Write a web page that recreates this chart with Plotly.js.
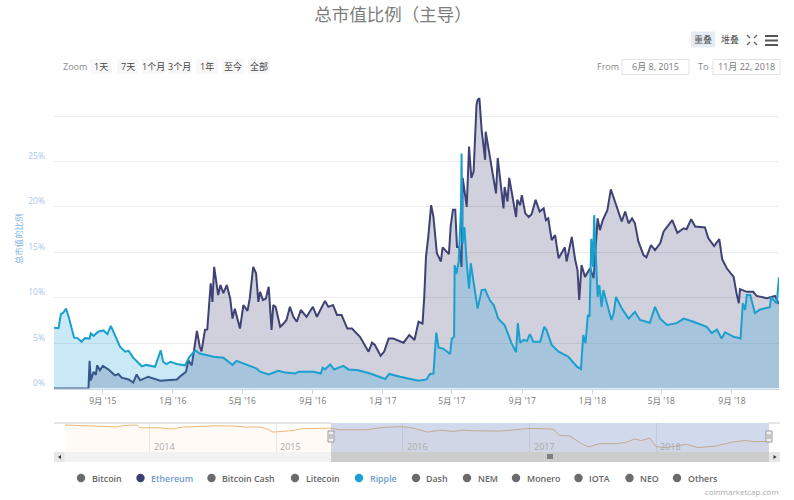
<![CDATA[<!DOCTYPE html>
<html><head><meta charset="utf-8">
<script src="https://cdn.plot.ly/plotly-3.0.1.min.js"></script>
<style>html,body{margin:0;padding:0;background:#fff}#c{width:794px;height:500px}</style>
</head><body><div id="c"></div>
<script>
var chartTitle='总市值比例（主导）';
var startDate='2015-06-08', endDate='2018-11-22';
var navStart='2013-05-02';
var rippleDays=[0,2,8,12,16,21,26,35,41,48,54,62,64,69,77,86,93,99,106,115,124,130,138,153,161,176,186,190,196,203,214,228,236,246,254,278,295,311,318,336,353,359,374,391,403,420,426,452,465,468,472,481,488,504,513,530,551,577,584,603,635,649,655,661,663,666,670,678,690,693,697,698,701,705,709,710,712,715,719,723,726,733,738,745,751,759,766,774,785,797,805,808,812,818,824,829,835,847,854,858,867,879,896,911,918,922,926,930,933,936,939,941,944,947,950,954,957,966,971,975,979,989,1001,1012,1021,1038,1047,1056,1068,1085,1097,1114,1137,1146,1155,1163,1169,1184,1196,1200,1204,1207,1213,1221,1230,1247,1249,1259,1263];
var rippleVals=[6.7,6.7,6.65,8.2,8.35,8.8,7.8,5.6,5.55,5.15,5.55,5.5,6.07,5.8,6.25,6.4,6.0,6.9,5.9,4.6,4.05,4.15,3.4,2.45,2.6,2.4,4.2,2.95,2.7,2.95,2.7,2.55,3.5,4.2,3.85,3.5,3.4,2.6,3.05,2.6,2.2,1.85,1.55,1.95,1.75,1.65,1.85,1.85,1.65,2.3,2.1,2.65,2.1,2.5,2.1,2.0,1.65,1.05,1.6,1.3,0.85,1.0,1.6,1.65,3.85,6.15,4.5,4.4,3.8,5.5,5.7,13.6,12.6,14,20,25.9,16,17.8,13.8,11,13.8,10.7,8.8,10.85,10.9,9.75,9.2,7.7,7,5,4,7.2,5.05,5.35,5.25,6.0,5.15,5.15,6.8,6.45,4.8,4.05,3.5,2.4,2.15,5.9,5.0,8.1,7.9,16.5,13.4,19.1,14.5,10.1,11.4,9.0,10.85,8.65,7.55,8.3,10.1,8.85,7.7,8.45,7.55,7.25,9.0,7.7,7.0,7.2,7.7,7.35,6.8,6.1,6.5,5.5,6.2,5.7,5.5,9.4,8.65,10.3,10.3,8.3,8.7,8.95,10.05,9.4,12.25];
var ethDays=[0,60,62,64,69,73,75,80,85,95,106,112,118,130,138,144,150,164,185,196,214,222,230,234,240,249,254,257,263,267,273,276,279,286,290,295,301,307,311,315,324,330,337,341,347,352,356,359,364,369,374,379,382,386,394,400,405,411,417,423,430,440,451,458,472,478,486,493,501,511,519,533,548,554,559,569,575,583,591,609,619,628,635,642,645,648,652,657,661,667,674,677,688,691,695,699,702,706,710,712,719,723,727,731,736,738,741,745,751,752,756,759,766,770,773,778,783,785,790,793,800,805,807,812,815,821,827,832,839,846,853,857,861,867,873,879,890,893,902,908,912,915,919,925,934,940,947,951,956,964,970,978,983,989,995,1001,1007,1012,1018,1027,1032,1040,1047,1056,1062,1077,1086,1097,1102,1110,1117,1134,1140,1150,1159,1164,1172,1184,1189,1193,1195,1207,1218,1224,1242,1256,1263];
var ethVals=[0,0,3.05,0.9,1.85,1.5,2.55,2.0,2.5,2.1,1.45,1.6,1.2,1.0,0.65,1.55,0.9,1.3,0.85,0.9,1.0,1.45,1.85,3.1,2.55,6.35,4.6,4.1,6.45,6.5,11.6,9.55,13.4,10.3,11.4,10.5,11.4,9.9,7.7,8.8,6.6,9.2,8.55,9.9,13.4,12.7,9.55,10.65,9.75,9.9,11.2,6.45,9.2,9.0,6.8,7.15,7.55,9.0,7.9,7.35,8.65,7.9,9.0,7.9,9.65,9.0,9.2,8.1,8.1,6.6,6.6,5.7,4.05,5.05,4.8,3.6,4.05,5.5,5.5,5.05,5.9,5.35,7.35,7.15,10.1,14.5,16.7,20.2,18.9,14.9,14.0,15.55,14.8,17.85,19.7,19.7,15.6,15.6,13.4,23.2,20.0,26.65,23.2,23.9,31.25,31.8,32.0,28.5,25.2,28.3,26.8,25.2,22.6,21.5,25.4,22.6,19.85,22.2,20.6,23.2,20.6,18.9,20.8,20.2,21.3,19.3,18.9,19.2,20.8,19.5,19.85,18.55,18.75,16.35,16.9,14.35,15.55,14.0,16.7,14.15,13.05,9.75,13.6,12.3,13.25,12.15,18.75,17.45,18.55,19.65,21.95,20.4,19.65,18.4,19.5,18.2,18.75,18.2,16.2,14.7,14.45,15.8,15.25,16.0,17.3,18.55,17.15,17.65,17.55,18.65,17.85,17.75,16.55,15.7,16.45,14.25,13.25,12.3,10.5,9.4,10.95,10.65,10.65,10.2,9.95,10.2,9.3];
var bitcoinDays=[0,43,91,149,173,207,216,231,245,274,307,341,389,437,485,524,562,581,600,629,658,682,725,764,792,831,869,917,965,994,1023,1047,1081,1119,1148,1177,1254,1302,1340,1407,1427,1455,1484,1508,1542,1590,1619,1643,1662,1686,1705,1734,1792,1825,1878,1926,1964,1984,2030];
var bitcoinVals=[95,94,93,90,94,95,87.5,86.6,87.5,87.5,83.8,89.4,92,93,92,89.4,89.4,84.8,75.5,77.4,80.1,84.8,85.7,86.6,82,82,82,88.5,90.3,88.5,82,75.5,81,77.4,81,79.2,78.3,83,85.7,83.8,66.3,65.4,46.9,34.8,44,44,47.8,57,52.4,58.9,35.7,33,42.2,33,37.6,48.7,52.4,49.6,49.6];
var xTickDates=['2015-09-01','2016-01-01','2016-05-01','2016-09-01','2017-01-01','2017-05-01','2017-09-01','2018-01-01','2018-05-01','2018-09-01'];
var xTickLabels=["9月 '15","1月 '16","5月 '16","9月 '16","1月 '17","5月 '17","9月 '17","1月 '18","5月 '18","9月 '18"];
var yTickVals=[0,5,10,15,20,25,30];
var yTickLabels=['0%','5%','10%','15%','20%','25%',' '];
var navYears=['2014','2015','2016','2017','2018'];
var legendNames=['Bitcoin','Ethereum','Bitcoin Cash','Litecoin','Ripple','Dash','NEM','Monero','IOTA','NEO','Others'];
var legendDot=['#6b6b6b','#3b3f75','#6b6b6b','#6b6b6b','#1a9fd8','#6b6b6b','#6b6b6b','#6b6b6b','#6b6b6b','#6b6b6b','#6b6b6b'];
var legendText=['#666','#6f9bc9','#666','#666','#6f9bc9','#666','#666','#666','#666','#666','#666'];
var legendX=[81,140.5,211.5,295,359,416,467,516,578.5,629.5,677];
var zoomLabels=['1天','7天','1个月','3个月','1年','至今','全部'];
var zoomX0=[90,117,142,168,196,222,248], zoomX1=[112,138,165,191,218,244,270];

function toDates(base,days){var b=new Date(base+'T00:00:00Z').getTime();return days.map(function(d){return new Date(b+d*864e5).toISOString().slice(0,10)})}
function X(p){return p/794} function Y(p){return 1-p/500}
var FONT='"Open Sans","Noto Sans CJK SC",sans-serif', CJK='"Noto Sans CJK SC",sans-serif';
var shapes=[],ann=[];
function rect(x0,y0,x1,y1,fill,line,layer){shapes.push({type:'rect',xref:'paper',yref:'paper',x0:X(x0),x1:X(x1),y0:Y(y0),y1:Y(y1),fillcolor:fill,line:{color:line||'rgba(0,0,0,0)',width:line?1:0},layer:layer||'above'})}
function seg(x0,y0,x1,y1,c,w){shapes.push({type:'line',xref:'paper',yref:'paper',x0:X(x0),x1:X(x1),y0:Y(y0),y1:Y(y1),line:{color:c,width:w||1}})}
function txt(x,y,t,size,color,anchor,font,weight){ann.push({xref:'paper',yref:'paper',x:X(x),y:Y(y),text:t,showarrow:false,xanchor:anchor||'center',yanchor:'middle',borderpad:0,font:{size:size,color:color,family:font||FONT,weight:weight||400}})}

// range selector
txt(62,66.5,'Zoom',9,'#888','left');
zoomLabels.forEach(function(l,i){rect(zoomX0[i],59,zoomX1[i],74,'#f8f8f8');txt((zoomX0[i]+zoomX1[i])/2,66,l,9,'#444','center')});
// from / to
txt(596,66.5,'From',9,'#888','left');
rect(622,59.5,689,74.5,'#fff','#e3e3e3');txt(655.5,66.5,'6月 8, 2015',9,'#777');
txt(697,66.5,'To',9,'#888','left');
rect(713,59.5,780,74.5,'#fff','#e3e3e3');txt(746.5,66.5,'11月 22, 2018',9,'#777');
// top right
rect(691,31.5,715,47.5,'#e6ebf5');txt(703,39.5,'重叠',9,'#555');txt(729.5,39.5,'堆叠',9,'#555');
[[747,35,750,38],[757,35,754,38],[747,45,750,42],[757,45,754,42]].forEach(function(s){seg(s[0],s[1],s[2],s[3],'#666',1.2)});
[36,40.5,45].forEach(function(y){seg(765,y,778,y,'#555',2)});
// navigator chrome
rect(54,452,780,462,'#f2f2f2');
rect(331,452,769,462,'#cccccc');
rect(54,452,64.5,462,'#e6e6e6');rect(769.5,452,780,462,'#e6e6e6');
seg(54,423,331,423,'#cccccc',1);seg(769,423,780,423,'#cccccc',1);
shapes.push({type:'rect',xref:'x2',yref:'paper',x0:startDate,x1:endDate,y0:Y(452),y1:Y(423),fillcolor:'rgba(102,133,194,0.3)',line:{width:0},layer:'above'});
[[331],[769]].forEach(function(h){rect(h[0]-3,431,h[0]+3,442,'#f2f2f2','#999');seg(h[0]-1,434,h[0]-1,439,'#999',1);seg(h[0]+1,434,h[0]+1,439,'#999',1)});
[548,550,552].forEach(function(x){seg(x,454,x,459,'#333',1)});
shapes.push({type:'path',xref:'paper',yref:'paper',path:'M'+X(61)+','+Y(455)+' L'+X(61)+','+Y(459)+' L'+X(58)+','+Y(457)+' Z',fillcolor:'#333',line:{width:0}});
shapes.push({type:'path',xref:'paper',yref:'paper',path:'M'+X(773.5)+','+Y(455)+' L'+X(773.5)+','+Y(459)+' L'+X(776.5)+','+Y(457)+' Z',fillcolor:'#333',line:{width:0}});
navYears.forEach(function(y){ann.push({xref:'x2',yref:'paper',x:y+'-01-01',y:Y(446),text:y,showarrow:false,xanchor:'left',xshift:2,yanchor:'middle',font:{size:9,color:'#aaa',family:FONT}})});
// legend
legendNames.forEach(function(n,i){
 shapes.push({type:'circle',xref:'paper',yref:'paper',x0:X(legendX[i]-4.2),x1:X(legendX[i]+4.2),y0:Y(482.2),y1:Y(473.8),fillcolor:legendDot[i],line:{width:0}});
 txt(legendX[i]+9.5,478.5,n,8.85,legendText[i],'left',FONT,600);
});
txt(780,491.5,'coinmarketcap.com',8,'#aaa','right');

var traces=[
 {type:'scatter',mode:'lines',name:'Ethereum',x:toDates(startDate,ethDays),y:ethVals,fill:'tozeroy',fillcolor:'rgba(52,56,110,0.23)',line:{color:'#3f4274',width:2},xaxis:'x',yaxis:'y'},
 {type:'scatter',mode:'lines',name:'Ripple',x:toDates(startDate,rippleDays),y:rippleVals,fill:'tozeroy',fillcolor:'rgba(26,159,216,0.23)',line:{color:'#1b9fcf',width:2},xaxis:'x',yaxis:'y'},
 {type:'scatter',mode:'lines',name:'Bitcoin',x:toDates(navStart,bitcoinDays),y:bitcoinVals,fill:'tozeroy',fillcolor:'rgba(247,147,26,0.045)',line:{color:'#efb878',width:1},xaxis:'x2',yaxis:'y2',showlegend:false}
];
var layout={
 width:794,height:500,margin:{l:0,r:0,t:0,b:0},paper_bgcolor:'#fff',plot_bgcolor:'#fff',showlegend:false,
 title:{text:chartTitle,x:393/794,xanchor:'center',y:Y(15),yanchor:'middle',font:{size:17.5,color:'#7d7d7d',family:CJK}},
 xaxis:{domain:[X(54),X(779)],range:[startDate,endDate],type:'date',tickmode:'array',tickvals:xTickDates,ticktext:xTickLabels,tickfont:{size:8.5,color:'#777',family:FONT},ticks:'outside',ticklen:4,tickcolor:'#ccd6eb',showgrid:false,zeroline:false,showline:true,linecolor:'#ccd6eb',anchor:'y'},
 yaxis:{domain:[Y(388.5),Y(89)],range:[0,33],tickmode:'array',tickvals:yTickVals,ticktext:yTickLabels.map(function(t){return t.trim()?t+'<br>&nbsp;':t}),tickfont:{size:8.5,color:'#a9c8ea',family:FONT},gridcolor:'#ececec',gridwidth:1,zeroline:false,showline:false,ticks:'',ticklabelstandoff:8,anchor:'x',title:{text:'总市值的比例',font:{size:8.5,color:'#86b6e6',family:CJK},standoff:4}},
 xaxis2:{domain:[X(65),X(769)],range:[navStart,endDate],type:'date',tickmode:'array',tickvals:navYears.map(function(y){return y+'-01-01'}),showticklabels:false,ticks:'',showgrid:true,gridcolor:'#e8e8e8',zeroline:false,showline:false,anchor:'y2'},
 yaxis2:{domain:[Y(452),Y(423)],range:[21,100.5],showgrid:false,showticklabels:false,ticks:'',zeroline:false,showline:false,anchor:'x2'},
 shapes:shapes,annotations:ann,hovermode:'x'
};
Plotly.newPlot('c',traces,layout,{displayModeBar:false,responsive:false});
</script></body></html>]]>
